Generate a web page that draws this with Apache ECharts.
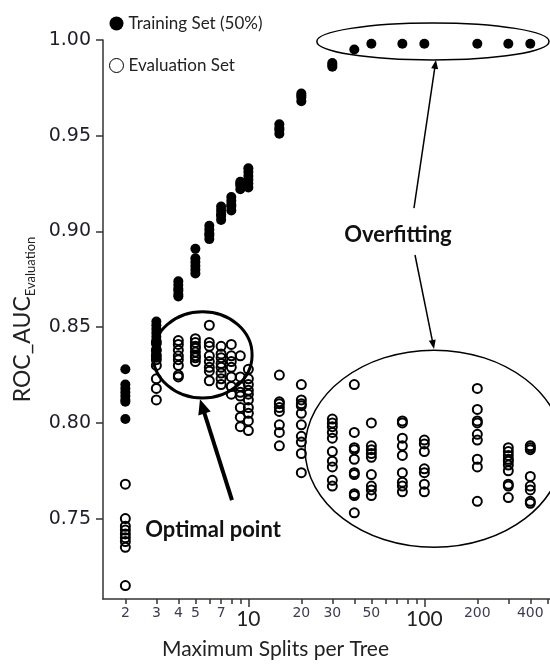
<!DOCTYPE html>
<html>
<head>
<meta charset="utf-8">
<script src="https://cdn.jsdelivr.net/npm/echarts@6/dist/echarts.min.js"></script>
<style>
  html, body { margin: 0; padding: 0; background: #fff; }
  #chart { width: 550px; height: 666px; }
</style>
</head>
<body>
<div id="chart"></div>
<script>
// split values (x) and the AUC runs measured at each of them
const splits = [2, 3, 4, 5, 6, 7, 8, 9, 10, 15, 20, 30, 40, 50, 75, 100, 200, 300, 400];

const trainAUC = [
  [0.828, 0.820, 0.818, 0.816, 0.814, 0.812, 0.811, 0.802],
  [0.853, 0.851, 0.849, 0.847, 0.845, 0.843, 0.841, 0.838, 0.836, 0.834],
  [0.874, 0.872, 0.870, 0.869, 0.867, 0.866],
  [0.891, 0.886, 0.884, 0.882, 0.880, 0.878],
  [0.903, 0.901, 0.899, 0.898, 0.896],
  [0.913, 0.911, 0.909, 0.908, 0.906],
  [0.918, 0.916, 0.914, 0.913, 0.911],
  [0.926, 0.925, 0.924, 0.922],
  [0.933, 0.931, 0.929, 0.927, 0.925, 0.923],
  [0.956, 0.954, 0.953, 0.951],
  [0.972, 0.971, 0.970, 0.968],
  [0.988, 0.987, 0.986],
  [0.995],
  [0.998], [0.998], [0.998], [0.998], [0.998], [0.998]
];

const evalAUC = [
  [0.768, 0.750, 0.746, 0.744, 0.742, 0.740, 0.738, 0.735, 0.715],
  [0.842, 0.838, 0.835, 0.833, 0.830, 0.823, 0.818, 0.812],
  [0.843, 0.841, 0.838, 0.835, 0.833, 0.830, 0.825, 0.824],
  [0.844, 0.842, 0.840, 0.839, 0.837, 0.835, 0.834, 0.832],
  [0.851, 0.842, 0.840, 0.835, 0.832, 0.829, 0.827, 0.822],
  [0.840, 0.836, 0.834, 0.831, 0.829, 0.826, 0.823, 0.820],
  [0.841, 0.835, 0.832, 0.829, 0.824, 0.819, 0.815],
  [0.835, 0.824, 0.819, 0.816, 0.814, 0.808, 0.803, 0.798],
  [0.828, 0.823, 0.820, 0.817, 0.815, 0.812, 0.808, 0.805, 0.801, 0.796],
  [0.825, 0.811, 0.810, 0.808, 0.806, 0.799, 0.795, 0.788],
  [0.820, 0.812, 0.810, 0.809, 0.805, 0.799, 0.793, 0.790, 0.784, 0.774],
  [0.802, 0.800, 0.798, 0.795, 0.792, 0.785, 0.780, 0.777, 0.770, 0.767],
  [0.820, 0.795, 0.787, 0.786, 0.781, 0.774, 0.773, 0.763, 0.762, 0.753],
  [0.800, 0.788, 0.786, 0.784, 0.782, 0.773, 0.767, 0.765, 0.762],
  [0.801, 0.800, 0.792, 0.788, 0.783, 0.774, 0.769, 0.767, 0.764],
  [0.791, 0.789, 0.785, 0.776, 0.774, 0.768, 0.764],
  [0.818, 0.807, 0.801, 0.800, 0.794, 0.791, 0.781, 0.777, 0.759],
  [0.787, 0.785, 0.783, 0.781, 0.780, 0.778, 0.775, 0.768, 0.767, 0.761],
  [0.788, 0.787, 0.786, 0.772, 0.767, 0.765, 0.759, 0.758]
];

// tick labels
const xSmallLabels = [2, 3, 4, 5, 7, 20, 30, 50, 200, 400];
const xMinorTicks = [2, 3, 4, 5, 6, 7, 8, 9, 20, 30, 40, 50, 60, 70, 80, 90, 200, 300, 400, 500];
const xMajorLabels = [10, 100];
const yLabels = [0.75, 0.80, 0.85, 0.90, 0.95, 1.00];

const lg = Math.log10;
const FONT = 'Lato';

// x axis is drawn on log10(splits)
function toPoints(runs) {
  let pts = [];
  runs.forEach(function (vals, i) {
    vals.forEach(function (v) { pts.push([lg(splits[i]), v]); });
  });
  return pts;
}

const X_MIN = 0.174, X_MAX = 2.714;

const chart = echarts.init(document.getElementById('chart'));

const option = {
  backgroundColor: '#fff',
  animation: false,
  grid: { left: 103, right: 0, top: 40, bottom: 67, outerBoundsMode: 'none' },
  legend: {
    orient: 'vertical',
    left: 104,
    top: 10,
    itemWidth: 14,
    itemHeight: 14,
    itemGap: 25,
    icon: 'circle',
    textStyle: { fontFamily: FONT, fontSize: 17, color: '#222' },
    data: [
      { name: 'Training Set (50%)' },
      { name: 'Evaluation Set', itemStyle: { borderWidth: 1 } }
    ]
  },
  xAxis: [
    {
      type: 'value',
      min: X_MIN,
      max: X_MAX,
      position: 'bottom',
      splitLine: { show: false },
      axisLine: { onZero: false, lineStyle: { color: '#333', width: 1.5 } },
      axisTick: {
        length: 5,
        lineStyle: { color: '#333', width: 1.5 },
        customValues: xMinorTicks.map(lg)
      },
      axisLabel: {
        customValues: xSmallLabels.map(lg),
        formatter: function (v) { return String(Math.round(Math.pow(10, v))); },
        fontFamily: 'DejaVu Sans',
        fontSize: 14,
        color: '#3c3c52',
        margin: 7
      },
      name: 'Maximum Splits per Tree',
      nameLocation: 'middle',
      nameGap: 40,
      nameTextStyle: { fontFamily: FONT, fontSize: 21, color: '#222', padding: [0, 102, 0, 0] }
    },
    {
      type: 'value',
      min: X_MIN,
      max: X_MAX,
      position: 'bottom',
      splitLine: { show: false },
      axisLine: { show: false, onZero: false },
      axisTick: {
        length: 8,
        lineStyle: { color: '#333', width: 1.5 },
        customValues: xMajorLabels.map(lg)
      },
      axisLabel: {
        customValues: xMajorLabels.map(lg),
        formatter: function (v) { return String(Math.round(Math.pow(10, v))); },
        fontFamily: FONT,
        fontSize: 21,
        color: '#222',
        margin: 10
      }
    }
  ],
  yAxis: {
    type: 'value',
    min: 0.708,
    max: 1.0,
    splitLine: { show: false },
    axisLine: { show: true, lineStyle: { color: '#333', width: 1.5 } },
    axisTick: { show: true, length: 7, lineStyle: { color: '#333', width: 1.5 }, customValues: yLabels },
    axisLabel: {
      customValues: yLabels,
      formatter: function (v) { return v.toFixed(2); },
      fontFamily: 'DejaVu Sans',
      fontSize: 19,
      color: '#1e1e2a',
      margin: 12
    },
    name: '{a|ROC_AUC}{b|Evaluation}',
    nameLocation: 'middle',
    nameRotate: 90,
    nameGap: 64,
    nameTextStyle: {
      rich: {
        a: { fontFamily: FONT, fontSize: 23, color: '#222', verticalAlign: 'bottom', padding: [0, 0, 4, 0] },
        b: { fontFamily: FONT, fontSize: 13, color: '#222', verticalAlign: 'bottom' }
      }
    }
  },
  series: [
    {
      name: 'Training Set (50%)',
      type: 'scatter',
      symbol: 'circle',
      symbolSize: 10,
      itemStyle: { color: '#000', opacity: 1 },
      data: toPoints(trainAUC)
    },
    {
      name: 'Evaluation Set',
      type: 'scatter',
      symbol: 'circle',
      symbolSize: 9,
      itemStyle: { color: 'rgba(255,255,255,0)', borderColor: '#000', borderWidth: 2, opacity: 1 },
      data: toPoints(evalAUC)
    }
  ]
};

chart.setOption(option);

// ---- annotations, placed in data space (x in splits, y in AUC) ----
function px(x, y) {
  return chart.convertToPixel({ gridIndex: 0 }, [lg(x), y]);
}

function ellipse(x0, x1, y0, y1, lw) {
  const a = px(x0, y0), b = px(x1, y1);
  return {
    type: 'ellipse',
    shape: { cx: (a[0] + b[0]) / 2, cy: (a[1] + b[1]) / 2, rx: Math.abs(b[0] - a[0]) / 2, ry: Math.abs(b[1] - a[1]) / 2 },
    style: { fill: null, stroke: '#000', lineWidth: lw },
    z: 100
  };
}

function arrow(from, to, lw, headLen, headW) {
  const p0 = px(from[0], from[1]), p1 = px(to[0], to[1]);
  const dx = p1[0] - p0[0], dy = p1[1] - p0[1];
  const len = Math.sqrt(dx * dx + dy * dy);
  const ux = dx / len, uy = dy / len;
  const bx = p1[0] - ux * headLen, by = p1[1] - uy * headLen;
  return [
    {
      type: 'line',
      shape: { x1: p0[0], y1: p0[1], x2: bx + ux * 1, y2: by + uy * 1 },
      style: { stroke: '#000', lineWidth: lw },
      z: 100
    },
    {
      type: 'polygon',
      shape: { points: [p1, [bx - uy * headW / 2, by + ux * headW / 2], [bx + uy * headW / 2, by - ux * headW / 2]] },
      style: { fill: '#000' },
      z: 100
    }
  ];
}

function label(x, y, text) {
  const p = px(x, y);
  return {
    type: 'text',
    x: p[0],
    y: p[1],
    style: { text: text, fontFamily: FONT, fontSize: 22, fontWeight: 'bold', fill: '#111', align: 'center', verticalAlign: 'middle' },
    z: 100
  };
}

const graphics = [
  ellipse(2.87, 10.5, 0.858, 0.813, 3),
  ellipse(24.5, 511, 1.0089, 0.9896, 1.5),
  ellipse(21.0, 614, 0.838, 0.735, 1.5),
  label(6.3, 0.744, 'Optimal point'),
  label(70.8, 0.898, 'Overfitting')
]
  .concat(arrow([8.07, 0.7597], [5.31, 0.8124], 4, 15, 13))
  .concat(arrow([87.3, 0.9122], [116.4, 0.9896], 1.5, 9, 7))
  .concat(arrow([88.5, 0.8877], [113.5, 0.8386], 1.5, 9, 7));

chart.setOption({ graphic: graphics });
</script>
</body>
</html>
